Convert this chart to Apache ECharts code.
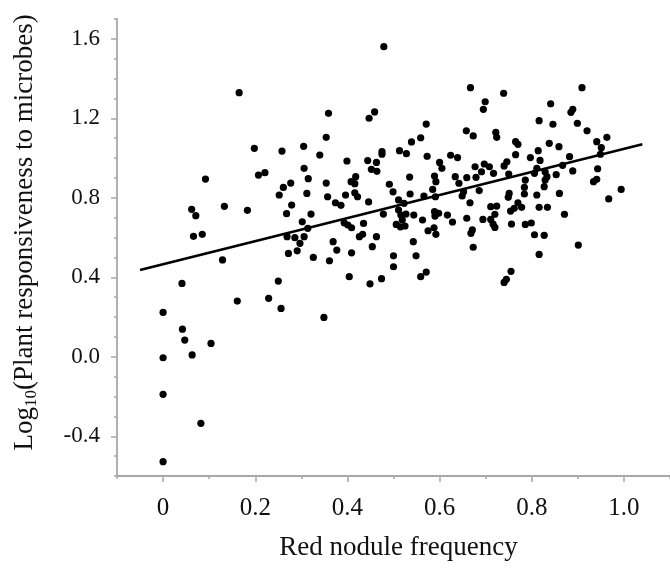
<!DOCTYPE html>
<html>
<head>
<meta charset="utf-8">
<script src="https://cdn.jsdelivr.net/npm/echarts@6/dist/echarts.min.js"></script>
<style>html,body{margin:0;padding:0;background:#fff;}#chart{width:670px;height:570px;}</style>
</head>
<body>
<div id="chart"></div>
<script>
const xValues = [0.165,0.198,0.258,0.207,0.221,0.092,0.277,0.261,0.252,0.279,0.268,0.062,0.071,0.133,0.183,0.066,0.085,0.269,
0.272,0.129,0.041,0.250,0.161,0.229,0.256,0,0.042,0.047,0.104,0.063,0,0,0.082,0,
0.479,0.667,0.359,0.459,0.447,0.571,0.354,0.539,0.559,0.658,0.673,0.305,0.340,0.475,0.475,0.513,0.528,0.573,0.624,0.639,
0.399,0.444,0.463,0.452,0.464,0.600,0.605,0.306,0.315,0.354,0.408,0.418,0.416,0.491,0.535,0.589,0.592,0.634,0.642,0.659,
0.677,0.312,0.357,0.396,0.416,0.499,0.536,0.585,0.566,
0.422,0.374,0.386,0.446,0.511,0.523,0.591,0.649,0.652,0.666,0.321,0.302,0.393,0.401,0.409,0.435,0.478,0.511,0.516,0.527,
0.519,0.506,0.515,0.525,0.544,0.563,0.589,0.598,0.590,0.617,0.628,0.659,0.575,0.588,0.592,0.668,0.671,0.314,0.286,0.297,
0.306,0.291,0.326,0.361,0.369,0.377,0.409,0.426,0.433,0.463,0.454,0.404,0.449,0.474,0.500,0.500,0.543,0.549,0.559,0.571,
0.349,0.673,
0.909,0.739,0.699,0.695,0.841,0.889,0.885,0.816,0.846,0.899,0.920,0.963,0.722,0.724,0.765,0.770,0.838,0.859,0.941,0.951,
0.949,0.814,0.765,0.797,0.818,0.882,0.697,0.708,0.717,0.691,0.679,0.740,0.746,0.750,0.786,0.806,0.811,0.829,0.833,0.853,
0.867,0.889,0.943,0.934,0.941,0.686,0.751,0.784,0.784,0.829,0.827,0.811,0.860,0.994,0.967,
0.749,0.711,0.724,0.720,0.770,0.762,0.754,0.778,0.816,0.834,0.871,0.694,0.711,0.716,0.720,0.756,0.786,0.799,0.806,0.827,
0.901,0.816,0.755,0.745,0.740];
const yValues = [1.329,1.049,1.035,0.914,0.926,0.894,0.874,0.852,0.814,0.763,0.720,0.742,0.710,0.757,0.737,0.606,0.616,0.604,
0.520,0.487,0.369,0.381,0.280,0.294,0.243,0.223,0.139,0.084,0.067,0.009,-0.005,-0.189,-0.335,-0.528,
1.560,1.354,1.225,1.232,1.200,1.171,1.104,1.081,1.102,1.137,1.111,1.059,1.015,1.032,1.019,1.037,1.022,1.009,1.014,1.002,
0.985,0.987,0.978,0.943,0.933,0.978,0.948,0.948,0.896,0.874,0.881,0.906,0.871,0.868,0.904,0.909,0.881,0.906,0.873,0.901,
0.956,0.822,0.805,0.814,0.825,0.830,0.819,0.842,0.809,
0.805,0.775,0.762,0.779,0.789,0.772,0.805,0.809,0.830,0.775,0.718,0.679,0.674,0.663,0.649,0.671,0.718,0.738,0.713,0.718,
0.688,0.666,0.654,0.658,0.713,0.688,0.730,0.722,0.708,0.713,0.678,0.697,0.634,0.649,0.616,0.621,0.638,0.646,0.599,0.571,
0.604,0.533,0.500,0.483,0.579,0.537,0.523,0.604,0.616,0.604,0.554,0.403,0.367,0.393,0.508,0.453,0.579,0.508,0.403,0.426,
0.198,0.551,
1.354,1.326,1.283,1.245,1.273,1.245,1.230,1.188,1.170,1.175,1.137,1.104,1.129,1.104,1.082,1.069,1.074,1.057,1.082,1.052,
1.019,1.037,1.017,1.002,0.988,1.007,0.970,0.956,0.923,0.931,0.903,0.960,0.981,0.919,0.889,0.923,0.948,0.931,0.906,0.916,
0.963,0.935,0.946,0.881,0.893,0.836,0.822,0.852,0.819,0.889,0.856,0.814,0.822,0.842,0.794,
0.802,0.755,0.758,0.717,0.775,0.747,0.733,0.752,0.752,0.752,0.717,0.691,0.691,0.668,0.651,0.668,0.666,0.673,0.614,0.611,
0.562,0.515,0.430,0.390,0.374];
const fitX = [-0.05, 1.04];
const fitY = [0.436, 1.069];
const xTickLabels = [0, 0.2, 0.4, 0.6, 0.8, 1.0];
const yTickLabels = [-0.4, 0, 0.4, 0.8, 1.2, 1.6];

const FONT = 'Liberation Serif';
const AXIS_COLOR = '#a8a8a8';
const chart = echarts.init(document.getElementById('chart'), null, {renderer: 'canvas'});
const points = xValues.map((x, i) => [x, yValues[i]]);
const fitLine = fitX.map((x, i) => [x, fitY[i]]);

const xBase = {type: 'value', min: -0.1, max: 1.1, interval: 0.1, splitLine: {show: false}, position: 'bottom'};
const yBase = {type: 'value', min: -0.6, max: 1.7, interval: 0.1, splitLine: {show: false}, position: 'left'};

chart.setOption({
  animation: false,
  backgroundColor: '#fff',
  grid: {left: 117, right: -7.4, top: 18.9, bottom: 94, containLabel: false},
  xAxis: [
    Object.assign({}, xBase, {
      axisLine: {show: true, onZero: false, lineStyle: {color: AXIS_COLOR, width: 1.8}},
      axisTick: {show: true, length: 3, lineStyle: {color: AXIS_COLOR, width: 1.5}},
      axisLabel: {show: true, customValues: xTickLabels, margin: 20, fontFamily: FONT, fontSize: 25, color: '#111',
        formatter: v => (Math.abs(v) < 1e-9 ? '0' : v.toFixed(1))},
      name: 'Red nodule frequency', nameLocation: 'middle', nameGap: 58,
      nameTextStyle: {fontFamily: FONT, fontSize: 27, color: '#111', padding: [0, 0, 0, 10]}
    }),
    Object.assign({}, xBase, {
      axisLine: {show: false, onZero: false},
      axisTick: {show: true, length: 6, customValues: xTickLabels, lineStyle: {color: AXIS_COLOR, width: 1.5}},
      axisLabel: {show: false}
    })
  ],
  yAxis: [
    Object.assign({}, yBase, {
      axisLine: {show: true, onZero: false, lineStyle: {color: AXIS_COLOR, width: 1.8}},
      axisTick: {show: true, length: 3, lineStyle: {color: AXIS_COLOR, width: 1.5}},
      axisLabel: {show: true, customValues: yTickLabels, margin: 17, fontFamily: FONT, fontSize: 23, color: '#111',
        formatter: v => v.toFixed(1)},
      name: '{a|Log}{b|10}{a|(Plant responsiveness to microbes)}',
      nameLocation: 'middle', nameGap: 77, nameRotate: 90,
      nameTextStyle: {fontFamily: FONT, fontSize: 27, color: '#111', padding: [0, 0, 0, 30],
        rich: {
          a: {fontFamily: FONT, fontSize: 27, color: '#111', lineHeight: 30},
          b: {fontFamily: FONT, fontSize: 17, color: '#111', lineHeight: 14, verticalAlign: 'bottom'}
        }}
    }),
    Object.assign({}, yBase, {
      axisLine: {show: false, onZero: false},
      axisTick: {show: true, length: 6, customValues: yTickLabels, lineStyle: {color: AXIS_COLOR, width: 1.5}},
      axisLabel: {show: false}
    })
  ],
  series: [
    {type: 'scatter', xAxisIndex: 0, yAxisIndex: 0, data: points, symbol: 'circle', symbolSize: 7.2,
      itemStyle: {color: '#000', opacity: 1}, z: 2},
    {type: 'line', xAxisIndex: 0, yAxisIndex: 0, data: fitLine, symbol: 'none', silent: true,
      lineStyle: {color: '#000', width: 2.6}, z: 3}
  ]
});
</script>
</body>
</html>
